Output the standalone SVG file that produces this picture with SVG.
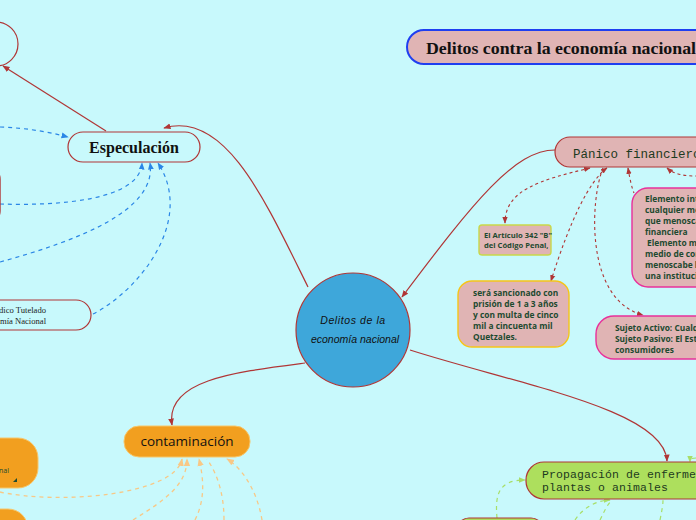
<svg xmlns="http://www.w3.org/2000/svg" width="696" height="520" viewBox="0 0 696 520">
<style>
.bg{fill:#c8f9fc}
.red{fill:none;stroke:#b03636;stroke-width:1.2}
.redd{fill:none;stroke:#b03636;stroke-width:1.1;stroke-dasharray:3 3}
.blu{fill:none;stroke:#2a86e6;stroke-width:1.2;stroke-dasharray:4 4}
.org{fill:none;stroke:#f8c886;stroke-width:1.3;stroke-dasharray:4 4}
.grn{fill:none;stroke:#a8de68;stroke-width:1.2;stroke-dasharray:4 4}
.t8{font-family:"Open Sans","Liberation Sans",sans-serif;font-size:7.6px;font-weight:bold;fill:#1d4a30}
.t9{font-family:"Open Sans","Liberation Sans",sans-serif;font-size:8.4px;font-weight:bold;fill:#1d4a30}
.mono{font-family:"Liberation Mono","DejaVu Sans Mono",monospace;fill:#1d3a20}
</style>
<defs>
<marker id="ar" viewBox="0 0 10 10" refX="9" refY="5" markerWidth="6" markerHeight="6" orient="auto-start-reverse"><path d="M0,1 L10,5 L0,9 z" fill="#b03636"/></marker>
<marker id="ab" viewBox="0 0 10 10" refX="9" refY="5" markerWidth="6" markerHeight="6" orient="auto-start-reverse"><path d="M0,1 L10,5 L0,9 z" fill="#2a86e6"/></marker>
<marker id="ao" viewBox="0 0 10 10" refX="9" refY="5" markerWidth="6" markerHeight="6" orient="auto-start-reverse"><path d="M0,1 L10,5 L0,9 z" fill="#f8c886"/></marker>
<marker id="ag" viewBox="0 0 10 10" refX="9" refY="5" markerWidth="6" markerHeight="6" orient="auto-start-reverse"><path d="M0,1 L10,5 L0,9 z" fill="#a8de68"/></marker>
</defs>
<rect class="bg" x="0" y="0" width="696" height="520"/>

<g id="connectors">
<path class="red" d="M106,131 L3,66" marker-end="url(#ar)"/>
<path class="red" d="M308,287 C265,200 225,110 164,128" marker-end="url(#ar)"/>
<path class="red" d="M555,150 C515,150 475,200 402,297" marker-end="url(#ar)"/>
<path class="red" d="M305,363 C235,372 165,380 172,425" marker-end="url(#ar)"/>
<path class="red" d="M410,350 C520,385 665,410 667,461" marker-end="url(#ar)"/>

<path class="blu" d="M0,127 C25,128 45,131 68,137" marker-end="url(#ab)"/>
<path class="blu" d="M0,204 C60,206 140,200 142,163" marker-end="url(#ab)"/>
<path class="blu" d="M0,262 C80,240 157,210 150,163" marker-end="url(#ab)"/>
<path class="blu" d="M93,314 C140,290 195,220 158,163" marker-end="url(#ab)"/>

<path class="redd" d="M590,168 C540,180 505,190 505,223" marker-start="url(#ar)" marker-end="url(#ar)"/>
<path class="redd" d="M607,168 C590,180 570,220 551,281" marker-start="url(#ar)" marker-end="url(#ar)"/>
<path class="redd" d="M603,168 C590,200 585,300 643,315" marker-end="url(#ar)"/>
<path class="redd" d="M628,168 C630,180 632,188 634,193" marker-start="url(#ar)"/>
<path class="redd" d="M667,168 C675,175 686,176 696,176" marker-start="url(#ar)"/>

<path class="org" d="M0,492 C60,505 175,495 182,459" marker-end="url(#ao)"/>
<path class="org" d="M133,520 C165,500 187,485 187,459" marker-end="url(#ao)"/>
<path class="org" d="M195,520 C205,500 204,480 199,459" marker-end="url(#ao)"/>
<path class="org" d="M224,520 C224,495 218,475 207,459"/>
<path class="org" d="M262,520 C258,495 245,470 227,459" marker-end="url(#ao)"/>

<path class="grn" d="M497,518 C495,495 498,480 525,480" marker-end="url(#ag)"/>
<path class="grn" d="M575,520 C585,505 600,500 610,500" marker-end="url(#ag)"/>
<path class="grn" d="M600,520 C605,510 607,505 612,500"/>
<path class="grn" d="M660,520 C662,510 663,505 663,500"/>
<path class="grn" d="M696,458 C690,458 690,460 690,462" marker-end="url(#ag)"/>
</g>

<g id="node-top-circle"><circle cx="-4" cy="44" r="22" fill="#c8f9fc" stroke="#b03636" stroke-width="1.2"/></g>

<g id="node-especulacion">
<rect x="68" y="132" width="132" height="30" rx="15" fill="#c8f9fc" stroke="#b03636" stroke-width="1.2"/>
<text x="134" y="153" text-anchor="middle" font-family="Liberation Serif,serif" font-size="16" font-weight="bold" fill="#111">Especulación</text>
</g>

<g id="node-left-red"><rect x="-100" y="167" width="100" height="56" rx="12" fill="#e0b4b4" stroke="#b03636" stroke-width="1.4"/></g>

<g id="node-bien-juridico">
<rect x="-60" y="300" width="151" height="30" rx="15" fill="#c8f9fc" stroke="#b03636" stroke-width="1.2"/>
<text x="-1" y="313" font-family="Liberation Serif,serif" font-size="8.6" fill="#222">dico Tutelado</text>
<text x="0" y="324" font-family="Liberation Serif,serif" font-size="8.6" fill="#222">mía Nacional</text>
</g>

<g id="node-center">
<circle cx="353" cy="330" r="57" fill="#3ea7da" stroke="#b03636" stroke-width="1.2"/>
<text x="353" y="324" text-anchor="middle" font-family="Liberation Sans,sans-serif" font-style="italic" font-size="10.5" letter-spacing="0.6" fill="#111">Delitos de la</text>
<text x="355" y="343" text-anchor="middle" font-family="Liberation Sans,sans-serif" font-style="italic" font-size="10.5" fill="#111">economía nacional</text>
</g>

<g id="node-title">
<rect x="407" y="30" width="320" height="34" rx="17" fill="#e0b4b4" stroke="#1f3ff0" stroke-width="2"/>
<text x="426" y="54" font-family="Liberation Serif,serif" font-size="17" font-weight="bold" fill="#111" textLength="270" lengthAdjust="spacingAndGlyphs">Delitos contra la economía nacional</text>
</g>

<g id="node-panico">
<rect x="555" y="137" width="180" height="30" rx="15" fill="#e0b4b4" stroke="#b03636" stroke-width="1.2"/>
<text x="573" y="158" class="mono" font-size="12.5">Pánico financiero</text>
</g>

<g id="node-articulo">
<rect x="479" y="225" width="72" height="30" rx="3" fill="#e0b4b4" stroke="#c8d84a" stroke-width="1.4"/>
<text x="484" y="238" class="t8" font-size="7">El Artículo 342 "B"</text>
<text x="484" y="248" class="t8" font-size="7">del Código Penal,</text>
</g>

<g id="node-sancion">
<rect x="458" y="281" width="111" height="66" rx="14" fill="#e0b4b4" stroke="#f5c518" stroke-width="1.4"/>
<text x="473" y="296" class="t9">será sancionado con</text>
<text x="473" y="307" class="t9">prisión de 1 a 3 años</text>
<text x="473" y="318" class="t9">y con multa de cinco</text>
<text x="473" y="329" class="t9">mil a cincuenta mil</text>
<text x="473" y="340" class="t9">Quetzales.</text>
</g>

<g id="node-elemento">
<rect x="632" y="188" width="110" height="99" rx="16" fill="#e0b4b4" stroke="#e8309a" stroke-width="1.4"/>
<text x="645" y="202" class="t9">Elemento int</text>
<text x="645" y="213" class="t9">cualquier me</text>
<text x="645" y="224" class="t9">que menosca</text>
<text x="645" y="235" class="t9">financiera</text>
<text x="647" y="246" class="t9">Elemento ma</text>
<text x="645" y="257" class="t9">medio de cor</text>
<text x="645" y="268" class="t9">menoscabe l</text>
<text x="645" y="279" class="t9">una instituci</text>
</g>

<g id="node-sujeto">
<rect x="596" y="316" width="140" height="43" rx="18" fill="#e0b4b4" stroke="#e8309a" stroke-width="1.4"/>
<text x="615" y="331" class="t9">Sujeto Activo: Cualq</text>
<text x="615" y="342" class="t9">Sujeto Pasivo: El Esta</text>
<text x="615" y="353" class="t9">consumidores</text>
</g>

<g id="node-contaminacion">
<rect x="124" y="426" width="126" height="31" rx="15" fill="#f29f1f" stroke="#f7c66a" stroke-width="1"/>
<text x="187" y="446" text-anchor="middle" font-family="Open Sans,Liberation Sans,sans-serif" font-size="13.5" fill="#111">contaminación</text>
</g>

<g id="node-left-orange">
<rect x="-80" y="438" width="118" height="50" rx="20" fill="#f29f1f" stroke="#f7c66a" stroke-width="1"/>
<text x="-1" y="473" font-family="Open Sans,Liberation Sans,sans-serif" font-size="7" fill="#1d4a30">nal</text>
<path d="M13,482 L17,478 L17,482 z" fill="#1d4a30"/>
</g>

<g id="node-bottom-orange"><rect x="-80" y="509" width="108" height="40" rx="20" fill="#f29f1f" stroke="#f7c66a" stroke-width="1"/></g>

<g id="node-propagacion">
<rect x="526" y="462" width="200" height="37" rx="18" fill="#addf5d" stroke="#b03636" stroke-width="1.2"/>
<text x="542" y="478" class="mono" font-size="11.5" letter-spacing="0.1">Propagación de enferme</text>
<text x="542" y="491" class="mono" font-size="11.5" letter-spacing="0.1">plantas o animales</text>
</g>

<g id="node-bottom-green"><rect x="457" y="518" width="86" height="30" rx="12" fill="#addf5d" stroke="#b03636" stroke-width="1.2"/></g>
</svg>
